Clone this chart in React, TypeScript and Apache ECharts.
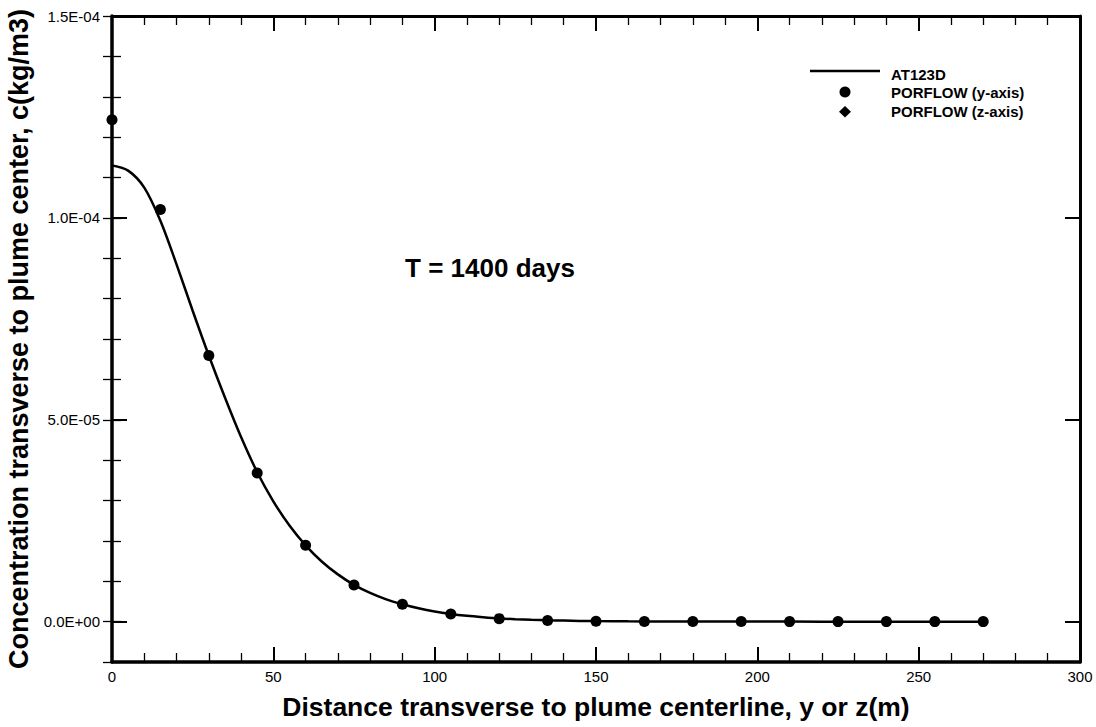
import React, { useEffect, useRef } from 'react';
import * as echarts from 'echarts';

// PORFLOW (y-axis) sample points
const porflowX = [0, 15, 30, 45, 60, 75, 90, 105, 120, 135, 150, 165, 180, 195, 210, 225, 240, 255, 270];
const porflowY = [1.243e-4, 1.021e-4, 6.59e-5, 3.68e-5, 1.89e-5, 9.06e-6, 4.3e-6, 1.9e-6, 7.4e-7, 3.0e-7, 1.2e-7, 5e-8, 2e-8, 1e-8, 0, 0, 0, 0, 0];

// AT123D analytical curve
const at123dX = [0, 5, 10, 15, 20, 25, 30, 35, 40, 45, 50, 55, 60, 65, 70, 75, 80, 85, 90, 95, 100, 105, 110, 115, 120, 125, 130, 135, 140, 145, 150, 160, 170, 180, 190, 200, 220, 240, 270];
const at123dY = [1.13e-4, 1.117e-4, 1.075e-4, 9.93e-5, 8.85e-5, 7.7e-5, 6.59e-5, 5.55e-5, 4.57e-5, 3.7e-5, 2.98e-5, 2.38e-5, 1.89e-5, 1.49e-5, 1.17e-5, 9.1e-6, 7.1e-6, 5.5e-6, 4.3e-6, 3.3e-6, 2.5e-6, 1.9e-6, 1.45e-6, 1.1e-6, 8e-7, 6e-7, 4.5e-7, 3.3e-7, 2.5e-7, 1.8e-7, 1.3e-7, 7e-8, 4e-8, 2e-8, 1e-8, 5e-9, 0, 0, 0];

const yMajorTicks = [0, 5e-5, 1e-4, 1.5e-4];
const xTitle = 'Distance transverse to plume centerline, y or z(m)';
const yTitle = 'Concentration transverse to plume center, c(kg/m3)';
const annotation = 'T = 1400 days';
const legendNames = ['AT123D', 'PORFLOW (y-axis)', 'PORFLOW (z-axis)'];

const FONT = "'Liberation Sans', Arial, Helvetica, sans-serif";

function fmtExp(v: number): string {
  if (v === 0) return '0.0E+00';
  const [m, e] = v.toExponential(1).split('e');
  const n = parseInt(e, 10);
  return m + 'E' + (n < 0 ? '-' : '+') + String(Math.abs(n)).padStart(2, '0');
}

export default function App() {
  const ref = useRef<HTMLDivElement>(null);
  useEffect(() => {
    document.body.style.margin = '0';
    const chart = echarts.init(ref.current!, null, { renderer: 'svg' });
    const majorTick = { show: true, inside: true, length: 15, lineStyle: { color: '#000', width: 2 } };
    const minorTick = { show: true, splitNumber: 5, length: 9, lineStyle: { color: '#000', width: 1.3 } };
    const yBase = { type: 'value', min: -1e-5, max: 1.5e-4, splitLine: { show: false } };
    const option: any = {
      animation: false,
      backgroundColor: '#fff',
      grid: { left: 112, right: 16, top: 16, bottom: 65, containLabel: false, outerBoundsMode: 'none' },
      xAxis: [
        {
          type: 'value', position: 'bottom', min: 0, max: 300, interval: 50,
          axisLine: { show: true, onZero: false, lineStyle: { color: '#000', width: 3.5 } },
          axisTick: majorTick,
          minorTick,
          splitLine: { show: false },
          axisLabel: { color: '#000', fontSize: 15, fontFamily: FONT, margin: 7 },
          name: xTitle, nameLocation: 'middle', nameGap: 31,
          nameTextStyle: { color: '#000', fontSize: 26.5, fontWeight: 'bold', fontFamily: FONT },
        },
        {
          type: 'value', position: 'top', min: 0, max: 300, interval: 50,
          axisLine: { show: true, onZero: false, lineStyle: { color: '#000', width: 3 } },
          axisTick: majorTick,
          minorTick,
          splitLine: { show: false },
          axisLabel: { show: false },
        },
      ],
      yAxis: [
        {
          ...yBase, position: 'left',
          axisLine: { show: true, onZero: false, lineStyle: { color: '#000', width: 3.5 } },
          axisTick: { ...majorTick, customValues: yMajorTicks },
          axisLabel: { color: '#000', fontSize: 15, fontFamily: FONT, margin: 12, customValues: yMajorTicks, formatter: (v: number) => fmtExp(v) },
          name: yTitle, nameLocation: 'middle', nameGap: 72, nameRotate: 90,
          nameTextStyle: { color: '#000', fontSize: 27, fontWeight: 'bold', fontFamily: FONT },
        },
        {
          ...yBase, position: 'left', interval: 1e-5,
          axisLine: { show: false },
          axisTick: { show: true, inside: true, length: 9, lineStyle: { color: '#000', width: 1.3 } },
          axisLabel: { show: false },
        },
        {
          ...yBase, position: 'right',
          axisLine: { show: true, onZero: false, lineStyle: { color: '#000', width: 3 } },
          axisTick: { ...majorTick, customValues: yMajorTicks },
          axisLabel: { show: false, customValues: yMajorTicks },
        },
        {
          ...yBase, position: 'right', interval: 1e-5,
          axisLine: { show: false },
          axisTick: { show: true, inside: true, length: 9, lineStyle: { color: '#000', width: 1.3 } },
          axisLabel: { show: false },
        },
      ],
      series: [
        {
          name: legendNames[0], type: 'line', xAxisIndex: 0, yAxisIndex: 0,
          data: at123dX.map((x, i) => [x, at123dY[i]]),
          showSymbol: false, symbol: 'none', smooth: 0.3,
          lineStyle: { color: '#000', width: 2.5 },
        },
        {
          name: legendNames[1], type: 'scatter', xAxisIndex: 0, yAxisIndex: 0,
          data: porflowX.map((x, i) => [x, porflowY[i]]),
          symbol: 'circle', symbolSize: 11, clip: false,
          itemStyle: { color: '#000', opacity: 1 },
        },
      ],
      graphic: [
        {
          type: 'text', x: 490, y: 268,
          style: { text: annotation, fill: '#000', font: `bold 26px ${FONT}`, align: 'center', verticalAlign: 'middle' },
        },
        { type: 'line', shape: { x1: 810, y1: 71, x2: 880, y2: 71 }, style: { stroke: '#000', lineWidth: 2.5 } },
        { type: 'circle', shape: { cx: 845, cy: 92, r: 5.5 }, style: { fill: '#000' } },
        { type: 'polygon', shape: { points: [[845, 106], [851, 111.7], [845, 117.4], [839, 111.7]] }, style: { fill: '#000' } },
        { type: 'text', x: 891, y: 74, style: { text: legendNames[0], fill: '#000', font: `bold 15px ${FONT}`, align: 'left', verticalAlign: 'middle' } },
        { type: 'text', x: 891, y: 92.5, style: { text: legendNames[1], fill: '#000', font: `bold 15px ${FONT}`, align: 'left', verticalAlign: 'middle' } },
        { type: 'text', x: 891, y: 111.5, style: { text: legendNames[2], fill: '#000', font: `bold 15px ${FONT}`, align: 'left', verticalAlign: 'middle' } },
      ],
    };
    chart.setOption(option);
    return () => chart.dispose();
  }, []);
  return <div ref={ref} style={{ position: 'fixed', left: 0, top: 0, width: 1096, height: 727 }} />;
}
